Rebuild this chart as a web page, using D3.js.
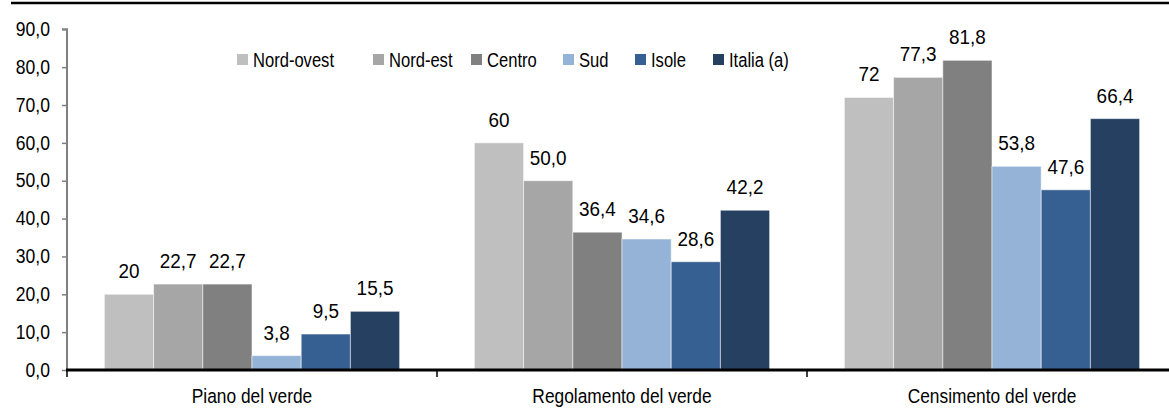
<!DOCTYPE html>
<html>
<head>
<meta charset="utf-8">
<script src="https://cdn.jsdelivr.net/npm/d3@7"></script>
<style>
  body { margin: 0; background: #fff; }
  svg { display: block; font-family: "Liberation Sans", Arial, sans-serif; }
</style>
</head>
<body>
<svg id="chart" width="1169" height="409"></svg>
<script>
// categories and series
const categories = ["Piano del verde", "Regolamento del verde", "Censimento del verde"];
const series = ["Nord-ovest", "Nord-est", "Centro", "Sud", "Isole", "Italia (a)"];
const colors = ["#bfbfbf", "#a6a6a6", "#808080", "#95b3d7", "#376092", "#254061"];

// values per series, one per category
const nordOvest = [20, 60, 72];
const nordEst = [22.7, 50.0, 77.3];
const centro = [22.7, 36.4, 81.8];
const sud = [3.8, 34.6, 53.8];
const isole = [9.5, 28.6, 47.6];
const italia = [15.5, 42.2, 66.4];

// labels as printed on the chart
const labelsNordOvest = ["20", "60", "72"];
const labelsNordEst = ["22,7", "50,0", "77,3"];
const labelsCentro = ["22,7", "36,4", "81,8"];
const labelsSud = ["3,8", "34,6", "53,8"];
const labelsIsole = ["9,5", "28,6", "47,6"];
const labelsItalia = ["15,5", "42,2", "66,4"];

const yTicks = [0, 10, 20, 30, 40, 50, 60, 70, 80, 90];

const values = [nordOvest, nordEst, centro, sud, isole, italia];
const labels = [labelsNordOvest, labelsNordEst, labelsCentro, labelsSud, labelsIsole, labelsItalia];

const data = [];
categories.forEach((c, ci) => {
  series.forEach((s, si) => {
    data.push({cat: c, ser: s, value: values[si][ci], label: labels[si][ci], color: colors[si]});
  });
});

const svg = d3.select("#chart");
const mLeft = 67, mRight = 1177, mTop = 29.3, mBottom = 370;

const x = d3.scaleBand().domain(categories).range([mLeft, mRight]).paddingInner(0).paddingOuter(0);
const xs = d3.scaleBand().domain(series).range([0, x.bandwidth()]).paddingOuter(0.76).paddingInner(0);
const y = d3.scaleLinear().domain([0, 90]).range([mBottom, mTop]);

// top rule
svg.append("line")
    .attr("x1", 11).attr("x2", 1169)
    .attr("y1", 3).attr("y2", 3)
    .attr("stroke", "#000").attr("stroke-width", 2.5);

// bars
svg.append("g")
  .selectAll("rect")
  .data(data)
  .join("rect")
    .attr("x", d => x(d.cat) + xs(d.ser))
    .attr("y", d => y(d.value))
    .attr("width", xs.bandwidth())
    .attr("height", d => y(0) - y(d.value))
    .attr("fill", d => d.color)
    .attr("stroke", "#ffffff")
    .attr("stroke-opacity", 0.5)
    .attr("stroke-width", 1);

// value labels
svg.append("g")
    .attr("font-size", 19.5)
    .attr("fill", "#000")
    .attr("text-anchor", "middle")
  .selectAll("text")
  .data(data)
  .join("text")
    .attr("transform", d => `translate(${x(d.cat) + xs(d.ser) + xs.bandwidth() / 2},${y(d.value) - 16}) scale(0.97,1)`)
    .text(d => d.label);

// y axis
const yAxis = svg.append("g")
    .attr("transform", `translate(${mLeft},0)`)
    .call(d3.axisLeft(y).tickValues(yTicks).tickSize(5).tickPadding(12)
      .tickFormat(d => d3.format(".1f")(d).replace(".", ",")));
yAxis.select(".domain").attr("stroke", "#808080").attr("stroke-width", 2)
    .attr("d", `M-5,${mTop}H0V${mBottom}`);
yAxis.selectAll(".tick line").attr("stroke", "#808080").attr("stroke-width", 1.5);
yAxis.selectAll(".tick text")
    .attr("font-size", 19.5).attr("fill", "#000")
    .attr("font-family", "Liberation Sans, Arial, sans-serif")
    .attr("x", 0)
    .attr("transform", "translate(-17,0) scale(0.9,1)");

// x axis
const xAxisG = svg.append("g").attr("transform", `translate(0,${mBottom})`);
xAxisG.append("line")
    .attr("x1", mLeft - 1).attr("x2", mRight)
    .attr("stroke", "#000").attr("stroke-width", 3);
xAxisG.selectAll(".sep")
  .data(categories)
  .join("line")
    .attr("class", "sep")
    .attr("x1", d => x(d)).attr("x2", d => x(d))
    .attr("y1", 0).attr("y2", 7)
    .attr("stroke", "#000").attr("stroke-width", 1.5);
xAxisG.selectAll(".cat")
  .data(categories)
  .join("text")
    .attr("class", "cat")
    .attr("text-anchor", "middle")
    .attr("font-size", 19.5)
    .attr("transform", d => `translate(${x(d) + x.bandwidth() / 2},33) scale(0.89,1)`)
    .text(d => d);

// legend
const legendX = [237, 373, 471, 563, 635, 713];
const legend = svg.append("g").attr("font-size", 19.5);
const item = legend.selectAll("g")
  .data(series)
  .join("g")
    .attr("transform", (d, i) => `translate(${legendX[i]},54)`);
item.append("rect")
    .attr("width", 11).attr("height", 11)
    .attr("fill", (d, i) => colors[i]);
item.append("text")
    .attr("transform", "translate(16,13) scale(0.85,1)")
    .text(d => d);
</script>
</body>
</html>
